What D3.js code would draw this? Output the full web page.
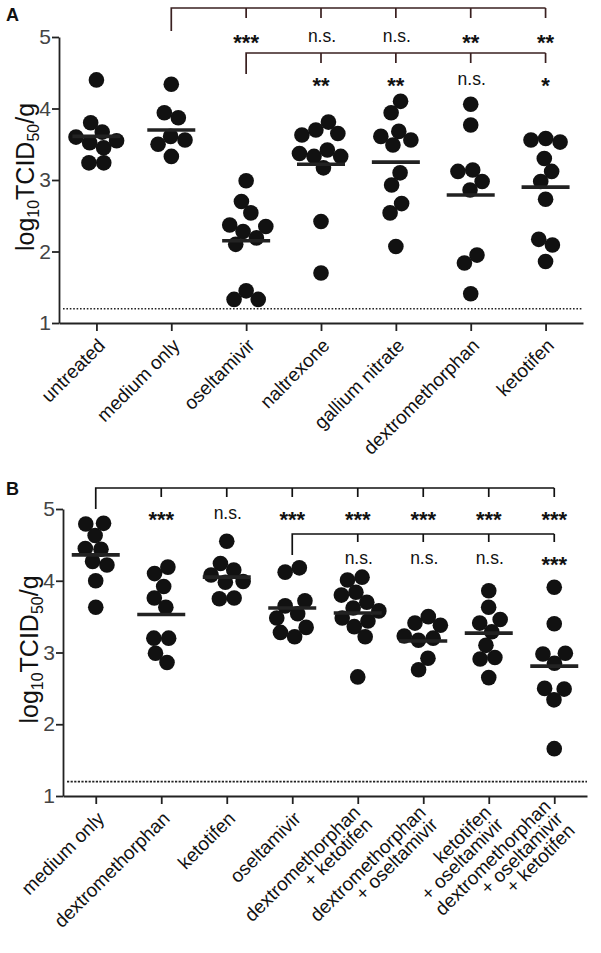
<!DOCTYPE html>
<html>
<head>
<meta charset="utf-8">
<script src="https://d3js.org/d3.v7.min.js"></script>
<style>
  body { margin: 0; background: #fff; }
  svg { display: block; font-family: "Liberation Sans", Arial, sans-serif; }
</style>
</head>
<body>
<svg id="chart" width="601" height="953"></svg>
<script>
  // ---- panel A data ----
  var catsA = [["untreated"], ["medium only"], ["oseltamivir"], ["naltrexone"],
               ["gallium nitrate"], ["dextromethorphan"], ["ketotifen"]];
  var valsA = [
    [4.40, 3.80, 3.67, 3.60, 3.55, 3.52, 3.45, 3.24, 3.24],
    [4.34, 3.94, 3.87, 3.61, 3.56, 3.50, 3.33],
    [2.99, 2.70, 2.54, 2.37, 2.35, 2.28, 2.19, 2.10, 1.45, 1.33, 1.33],
    [3.81, 3.70, 3.65, 3.63, 3.42, 3.37, 3.33, 3.33, 3.17, 2.42, 1.70],
    [4.10, 3.94, 3.68, 3.61, 3.56, 3.49, 3.10, 2.93, 2.67, 2.54, 2.07],
    [4.06, 3.77, 3.14, 3.12, 2.98, 2.86, 1.95, 1.84, 1.41],
    [3.58, 3.56, 3.53, 3.30, 3.12, 2.98, 2.73, 2.17, 2.09, 1.86]
  ];
  var meansA = [3.61, 3.70, 2.15, 3.22, 3.25, 2.79, 2.90];
  var sigA1 = ["***", "n.s.", "n.s.", "**", "**"];   // vs medium only, groups 2..6
  var sigA2 = ["**", "**", "n.s.", "*"];             // vs oseltamivir, groups 3..6

  // ---- panel B data ----
  var catsB = [["medium only"], ["dextromethorphan"], ["ketotifen"], ["oseltamivir"],
               ["dextromethorphan", "+ ketotifen"], ["dextromethorphan", "+ oseltamivir"],
               ["ketotifen", "+ oseltamivir"], ["dextromethorphan", "+ oseltamivir", "+ ketotifen"]];
  var valsB = [
    [4.80, 4.79, 4.63, 4.45, 4.44, 4.27, 4.22, 4.00, 3.63],
    [4.19, 4.10, 3.92, 3.76, 3.63, 3.20, 3.20, 2.99, 2.86],
    [4.55, 4.24, 4.15, 4.08, 3.99, 3.98, 3.76, 3.75],
    [4.18, 4.12, 3.72, 3.65, 3.54, 3.48, 3.35, 3.28, 3.22],
    [4.05, 4.01, 3.84, 3.80, 3.70, 3.62, 3.58, 3.48, 3.44, 3.36, 3.22, 2.66],
    [3.50, 3.41, 3.38, 3.23, 3.20, 3.17, 2.92, 2.76],
    [3.86, 3.63, 3.46, 3.41, 3.29, 3.10, 2.93, 2.91, 2.65],
    [3.91, 3.40, 2.99, 2.98, 2.85, 2.50, 2.49, 2.34, 1.66]
  ];
  var meansB = [4.36, 3.53, 4.05, 3.62, 3.55, 3.16, 3.27, 2.81];
  var sigB1 = ["***", "n.s.", "***", "***", "***", "***", "***"]; // vs medium only, groups 1..7
  var sigB2 = ["n.s.", "n.s.", "n.s.", "***"];                   // vs oseltamivir, groups 4..7

  var yTicks = [1, 2, 3, 4, 5];
  var limit = 1.2;   // detection limit

  var svg = d3.select("#chart");
  var R = 7.8;

  // spread points horizontally so they don't pile up (column scatter)
  function spread(vals, y) {
    var nodes = vals.map(function(v, i) {
      return { v: v, fy: y(v), x: (i % 2 ? -1 : 1) * (0.2 + i * 0.05) };
    });
    var sim = d3.forceSimulation(nodes)
      .force("x", d3.forceX(0).strength(0.06))
      .force("c", d3.forceCollide(R * 0.95).iterations(3))
      .stop();
    for (var k = 0; k < 250; k++) sim.tick();
    return nodes;
  }

  function panel(o) {
    var g = svg.append("g");
    var x = d3.scalePoint().domain(d3.range(o.cats.length)).range([o.x0, o.x1]).padding(0.5);
    var y = d3.scaleLinear().domain([1, 5]).range([o.yb, o.yt]);

    // y axis
    var ya = g.append("g").attr("transform", "translate(" + o.x0 + ",0)")
      .call(d3.axisLeft(y).tickValues(yTicks).tickFormat(d3.format("d")).tickSize(7).tickSizeOuter(0));
    ya.selectAll("text").attr("font-size", 21).attr("fill", "#444").attr("x", -8);
    // x axis
    g.append("g").attr("transform", "translate(0," + o.yb + ")")
      .call(d3.axisBottom(x).tickFormat("").tickSize(8).tickSizeOuter(0));
    g.selectAll(".domain, .tick line").attr("stroke", "#222").attr("stroke-width", 1.8);

    // x labels
    o.cats.forEach(function(lines, i) {
      var t = g.append("text")
        .attr("transform", "translate(" + (x(i) + 5) + "," + (o.yb + 19) + ") rotate(-45)")
        .attr("text-anchor", "end").attr("font-size", o.lab).attr("fill", "#111");
      lines.forEach(function(s, j) {
        t.append("tspan").attr("x", 0)
          .attr("y", ((j - (lines.length - 1) / 2) * 0.9 + 0.35) + "em").text(s);
      });
    });

    // y title
    var yt = g.append("text")
      .attr("transform", "translate(" + (o.x0 - 25) + "," + ((o.yt + o.yb) / 2 - 3) + ") rotate(-90)")
      .attr("text-anchor", "middle").attr("font-size", 25).attr("fill", "#111");
    yt.append("tspan").text("log");
    yt.append("tspan").attr("font-size", 16).attr("dy", 5).text("10");
    yt.append("tspan").attr("dy", -5).text("TCID");
    yt.append("tspan").attr("font-size", 16).attr("dy", 5).text("50");
    yt.append("tspan").attr("dy", -5).text("/g");

    // detection limit
    g.append("line")
      .attr("x1", o.x0 + 4).attr("x2", o.x1)
      .attr("y1", y(limit)).attr("y2", y(limit))
      .attr("stroke", "#222").attr("stroke-width", 1.6).attr("stroke-dasharray", o.dash);

    // points + mean bars
    o.vals.forEach(function(vals, i) {
      var pts = spread(vals, y);
      g.selectAll(null).data(pts).enter().append("circle")
        .attr("cx", function(d) { return x(i) + d.x; })
        .attr("cy", function(d) { return d.fy; })
        .attr("r", R).attr("fill", "#111");
      g.append("line")
        .attr("x1", x(i) - 24).attr("x2", x(i) + 24)
        .attr("y1", y(o.means[i])).attr("y2", y(o.means[i]))
        .attr("stroke", "#222").attr("stroke-width", 3.6);
    });

    // significance brackets
    function bracket(from, to, by, leg, tk, marks, rowY) {
      var xs = d3.range(from + 1, to + 1);
      var p = "M" + x(from) + "," + (by + leg) + "V" + by + "H" + x(to);
      xs.forEach(function(i) { p += "M" + x(i) + "," + by + "v" + tk; });
      g.append("path").attr("d", p).attr("fill", "none")
        .attr("stroke", o.bc).attr("stroke-width", 1.7);
      xs.forEach(function(i, k) {
        var s = marks[k], star = s.indexOf("*") === 0;
        g.append("text").attr("x", x(i) + (star ? 0 : 1))
          .attr("y", rowY + (star ? 13 : 5))
          .attr("text-anchor", "middle")
          .attr("font-size", star ? 22 : 17.5)
          .attr("font-weight", star ? "bold" : "normal")
          .attr("fill", "#111").text(s);
      });
    }
    bracket(o.b1[0], o.cats.length - 1, o.b1[1], o.b1[2], o.b1[3], o.s1, o.b1[4]);
    bracket(o.b2[0], o.cats.length - 1, o.b2[1], o.b2[2], o.b2[3], o.s2, o.b2[4]);

    g.append("text").attr("x", 6).attr("y", o.letterY).attr("font-size", 18)
      .attr("font-weight", "bold").attr("fill", "#111").text(o.letter);
  }

  panel({ cats: catsA, vals: valsA, means: meansA, s1: sigA1, s2: sigA2,
          x0: 59, x1: 583, yt: 37, yb: 323, lab: 19, dash: "1.6,1.8", bc: "#3a2020",
          b1: [1, 8, 23, 10, 37], b2: [2, 53, 21, 10, 80], letter: "A", letterY: 21 });
  panel({ cats: catsB, vals: valsB, means: meansB, s1: sigB1, s2: sigB2,
          x0: 63, x1: 587, yt: 509, yb: 796, lab: 19, dash: "2.2,1.4", bc: "#111",
          b1: [0, 488, 21, 9, 514], b2: [3, 534, 21, 8, 559], letter: "B", letterY: 495 });
</script>
</body>
</html>
